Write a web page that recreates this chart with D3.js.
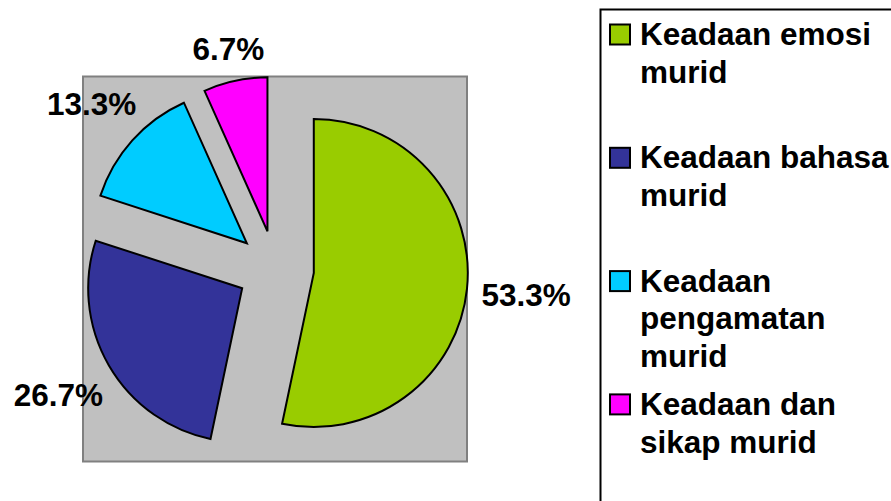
<!DOCTYPE html>
<html>
<head>
<meta charset="utf-8">
<script src="https://cdn.jsdelivr.net/npm/d3@7"></script>
<style>
  body { margin: 0; background: #fff; }
  text { font-family: "Liberation Sans", Arial, sans-serif; font-weight: bold; fill: #000; }
</style>
</head>
<body>
<div id="chart"></div>
<script>
// data
var categories = ["Keadaan emosi murid", "Keadaan bahasa murid", "Keadaan pengamatan murid", "Keadaan dan sikap murid"];
var values = [53.3, 26.7, 13.3, 6.7];
var valueLabels = ["53.3%", "26.7%", "13.3%", "6.7%"];
var legendLines = [["Keadaan emosi", "murid"], ["Keadaan bahasa", "murid"], ["Keadaan", "pengamatan", "murid"], ["Keadaan dan", "sikap murid"]];
var colors = ["#99cc00", "#333399", "#00ccff", "#ff00ff"];

var width = 891, height = 501;
var fontSize = 31.5;

var svg = d3.select("#chart").append("svg")
    .attr("width", width)
    .attr("height", height);

// plot area (grey box)
var plot = {x: 83, y: 76.5, w: 384, h: 385};
svg.append("rect")
    .attr("x", plot.x).attr("y", plot.y)
    .attr("width", plot.w).attr("height", plot.h)
    .attr("fill", "#c0c0c0")
    .attr("stroke", "#808080")
    .attr("stroke-width", 2);

var cx = 275.5, cy = 269, radius = 154, explode = 38.5;

var pie = d3.pie().sort(null).value(function(d) { return d; });
var arc = d3.arc().innerRadius(0).outerRadius(radius);
var arcs = pie(values);

function dir(d) {
  var a = (d.startAngle + d.endAngle) / 2;
  return [Math.sin(a), -Math.cos(a)];
}

var g = svg.append("g").attr("transform", "translate(" + cx + "," + cy + ")");

g.selectAll("path.slice").data(arcs)
  .enter().append("path")
    .attr("class", "slice")
    .attr("d", arc)
    .attr("transform", function(d) {
      var v = dir(d);
      return "translate(" + (v[0] * explode) + "," + (v[1] * explode) + ")";
    })
    .attr("fill", function(d, i) { return colors[i]; })
    .attr("stroke", "#000")
    .attr("stroke-width", 2)
    .attr("stroke-linejoin", "miter");

// value labels outside the slices
var labels = g.selectAll("text.lbl").data(arcs)
  .enter().append("text")
    .attr("class", "lbl")
    .attr("text-anchor", "middle")
    .style("font-size", fontSize + "px")
    .text(function(d, i) { return valueLabels[i]; });

labels.each(function(d) {
  var v = dir(d);
  var bw = this.getComputedTextLength();
  var bh = fontSize * 0.716;
  var gap = 14;
  var R = explode + radius + gap + Math.abs(v[0]) * bw / 2 + Math.abs(v[1]) * bh / 2;
  d3.select(this)
    .attr("x", v[0] * R)
    .attr("y", v[1] * R + bh / 2);
});

// legend
var legend = svg.append("g");
legend.append("rect")
    .attr("x", 600.5).attr("y", 9.5)
    .attr("width", 320).attr("height", 520)
    .attr("fill", "#fff")
    .attr("stroke", "#000")
    .attr("stroke-width", 2);

var firstBaseline = 45, entryStep = 123.3, lineStep = 37.7;

var items = legend.selectAll("g.item").data(legendLines)
  .enter().append("g")
    .attr("class", "item")
    .attr("transform", function(d, i) { return "translate(0," + (firstBaseline + i * entryStep) + ")"; });

items.append("rect")
    .attr("x", 610).attr("y", -20.5)
    .attr("width", 20).attr("height", 20)
    .attr("fill", function(d, i) { return colors[i]; })
    .attr("stroke", "#000")
    .attr("stroke-width", 2);

items.append("text")
    .style("font-size", fontSize + "px")
    .attr("x", 640)
    .selectAll("tspan").data(function(d) { return d; })
    .enter().append("tspan")
      .attr("x", 640)
      .attr("y", function(d, j) { return j * lineStep; })
      .text(function(d) { return d; });
</script>
</body>
</html>
